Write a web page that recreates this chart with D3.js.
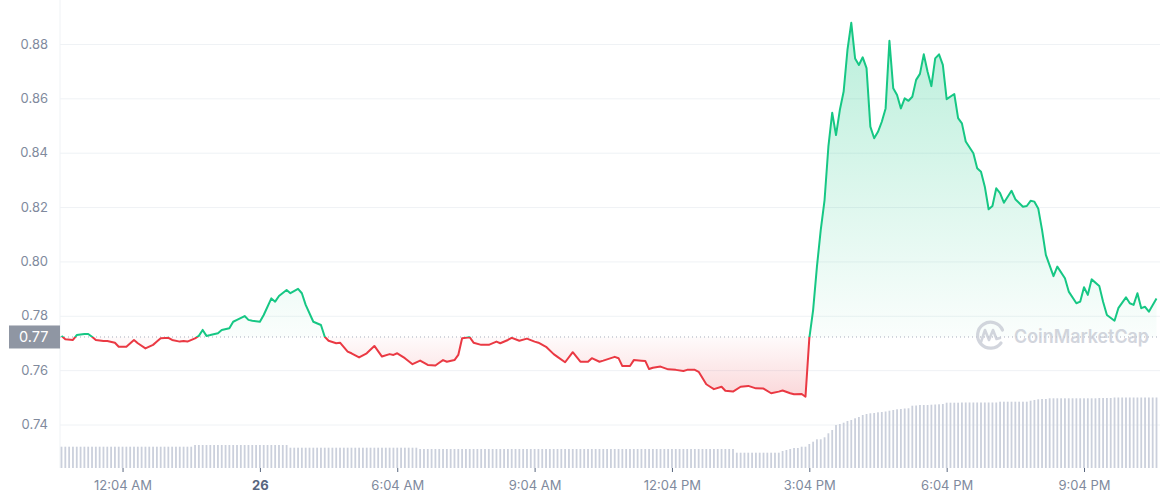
<!DOCTYPE html>
<html><head><meta charset="utf-8">
<script src="https://cdn.jsdelivr.net/npm/d3@7"></script>
<style>body{margin:0;background:#fff;} svg{display:block;font-family:Inter,"Noto Sans",sans-serif;}</style>
</head><body><svg id="chart" width="1160" height="500"></svg>
<script>
// minutes since start of window (5-min resolution)
const priceTimes = [0,5,15,20,30,35,40,45,55,60,70,75,85,95,100,110,120,125,130,140,145,155,160,165,175,180,185,190,195,205,210,220,225,230,240,245,250,260,265,275,280,285,295,300,310,315,320,330,340,345,350,360,365,375,380,390,400,410,420,430,435,440,450,460,470,480,490,495,500,505,515,520,525,535,540,550,560,570,575,585,590,600,610,620,625,635,645,650,660,670,680,690,695,705,710,725,730,735,745,750,760,765,770,775,785,795,805,815,820,830,835,845,850,855,865,870,880,890,900,910,920,930,940,945,955,960,970,975,980,985,990,995,1000,1005,1010,1015,1020,1025,1030,1035,1040,1045,1050,1055,1060,1065,1070,1075,1080,1085,1090,1095,1100,1105,1110,1115,1120,1125,1130,1135,1140,1145,1150,1155,1160,1170,1175,1180,1185,1195,1200,1205,1210,1215,1220,1225,1230,1235,1245,1250,1260,1265,1270,1275,1280,1285,1290,1300,1305,1315,1320,1330,1335,1340,1345,1350,1360,1365,1370,1380,1385,1395,1400,1405,1410,1415,1420,1425,1435];
const priceValues = [0.7726,0.7714,0.7711,0.7729,0.7733,0.7733,0.7723,0.7711,0.7707,0.7707,0.7701,0.7686,0.7686,0.7711,0.7699,0.7680,0.7693,0.7705,0.7717,0.7719,0.7711,0.7705,0.7707,0.7705,0.7717,0.7726,0.7748,0.7726,0.7729,0.7736,0.7748,0.7754,0.7778,0.7785,0.7799,0.7785,0.7782,0.7778,0.7803,0.7864,0.7852,0.7873,0.7895,0.7883,0.7899,0.7883,0.7840,0.7778,0.7766,0.7723,0.7708,0.7699,0.7701,0.7668,0.7662,0.7647,0.7662,0.7689,0.7650,0.7659,0.7656,0.7662,0.7644,0.7622,0.7635,0.7619,0.7617,0.7627,0.7637,0.7631,0.7637,0.7656,0.7717,0.7721,0.7701,0.7693,0.7693,0.7705,0.7699,0.7711,0.7719,0.7708,0.7716,0.7705,0.7701,0.7686,0.7659,0.7649,0.7629,0.7666,0.7631,0.7631,0.7644,0.7631,0.7635,0.7649,0.7644,0.7615,0.7615,0.7637,0.7635,0.7634,0.7604,0.7609,0.7613,0.7603,0.7601,0.7597,0.7601,0.7601,0.7594,0.7548,0.7539,0.7530,0.7539,0.7524,0.7521,0.7539,0.7542,0.7533,0.7532,0.7515,0.7521,0.7525,0.7515,0.7511,0.7512,0.7502,0.7717,0.7821,0.7981,0.8116,0.8226,0.8422,0.8547,0.8465,0.8557,0.8625,0.8778,0.8878,0.8747,0.8723,0.8751,0.8711,0.8496,0.8453,0.8477,0.8514,0.8563,0.8812,0.8637,0.8612,0.8563,0.8600,0.8591,0.8606,0.8668,0.8690,0.8762,0.8698,0.8645,0.8747,0.8762,0.8723,0.8597,0.8616,0.8527,0.8508,0.8441,0.8398,0.8343,0.8330,0.8275,0.8192,0.8204,0.8269,0.8251,0.8216,0.8260,0.8229,0.8201,0.8204,0.8223,0.8220,0.8195,0.8116,0.8024,0.7946,0.7981,0.7938,0.7889,0.7846,0.7852,0.7905,0.7877,0.7934,0.7910,0.7852,0.7803,0.7782,0.7828,0.7868,0.7846,0.7840,0.7883,0.7828,0.7833,0.7815,0.7864];
// 24h rolling volume, one bar per 5 minutes (arbitrary units)
const volumes = [
2.13,2.13,2.13,2.13,2.13,2.13,2.13,2.13,2.13,2.13,2.13,2.13,
2.13,2.13,2.13,2.13,2.13,2.13,2.13,2.13,2.13,2.13,2.13,2.13,
2.13,2.13,2.13,2.13,2.13,2.13,2.13,2.13,2.13,2.13,2.13,2.3,
2.3,2.3,2.3,2.3,2.3,2.3,2.3,2.3,2.3,2.3,2.3,2.3,
2.3,2.3,2.3,2.3,2.3,2.3,2.3,2.3,2.3,2.3,2.3,2.3,
2.03,2.03,2.03,2.03,2.03,2.03,2.03,2.03,2.03,2.03,2.03,2.03,
2.03,2.03,2.03,2.03,2.03,2.03,2.03,2.03,2.03,2.03,2.03,2.03,
2.03,2.03,2.03,2.03,2.03,2.03,2.03,2.03,2.03,2.03,1.9,1.9,
1.9,1.9,1.9,1.9,1.9,1.9,1.9,1.9,1.9,1.9,1.9,1.9,
1.9,1.9,1.9,1.9,1.9,1.9,1.9,1.9,1.9,1.9,1.9,1.9,
1.9,1.9,1.9,1.9,1.9,1.9,1.9,1.9,1.9,1.9,1.9,1.9,
1.9,1.9,1.9,1.9,1.9,1.9,1.9,1.9,1.9,1.9,1.9,1.9,
1.9,1.9,1.9,1.9,1.9,1.9,1.9,1.9,1.9,1.9,1.9,1.9,
1.9,1.9,1.9,1.9,1.9,1.9,1.9,1.9,1.9,1.9,1.9,1.9,
1.9,1.9,1.9,1.9,1.9,1.9,1.9,1.9,1.9,1.53,1.53,1.53,
1.53,1.53,1.53,1.53,1.53,1.53,1.53,1.53,1.53,1.7,1.8,1.9,
2.0,2.0,2.13,2.13,2.4,2.63,2.87,2.87,3.07,3.47,3.8,4.3,
4.4,4.53,4.7,4.8,4.97,5.1,5.3,5.4,5.47,5.5,5.57,5.6,
5.65,5.73,5.8,5.87,5.9,5.95,5.97,6.23,6.25,6.3,6.3,6.3,
6.33,6.35,6.37,6.4,6.53,6.53,6.53,6.53,6.55,6.55,6.55,6.55,
6.55,6.55,6.55,6.55,6.55,6.55,6.63,6.63,6.63,6.63,6.63,6.63,
6.63,6.63,6.73,6.8,6.87,6.9,6.9,6.97,6.97,6.97,6.97,6.97,
6.97,6.97,6.97,6.97,6.97,6.97,6.97,6.97,7.0,7.0,7.0,7.0,
7.05,7.05,7.05,7.05,7.05,7.05,7.05,7.05,7.05,7.05,7.05,7.05];
const openPrice = 0.7722;
const openLabel = "0.77";
const yTicks = [0.74,0.76,0.78,0.80,0.82,0.84,0.86,0.88];
const xTickTimes = [80,260,440,620,800,980,1160,1340];
const xTickLabels = ["12:04 AM","26","6:04 AM","9:04 AM","12:04 PM","3:04 PM","6:04 PM","9:04 PM"];

const W = 1160, H = 500;
const svg = d3.select("#chart");
const data = priceTimes.map((t,i)=>({t, v: priceValues[i]}));

const x = d3.scaleLinear().domain([0,1435]).range([61.5,1156.5]);
const y = d3.scaleLinear().domain([0.74,0.88]).range([424.5,44]);
const yv = d3.scaleLinear().domain([0,10]).range([468,368]);
const by = y(openPrice);

const GREEN = "#16c784", RED = "#ea3943";
const defs = svg.append("defs");
const gG = defs.append("linearGradient").attr("id","gG").attr("gradientUnits","userSpaceOnUse")
  .attr("x1",0).attr("x2",0).attr("y1",y(d3.max(priceValues))).attr("y2",by);
gG.append("stop").attr("offset","0%").attr("stop-color",GREEN).attr("stop-opacity",0.3);
gG.append("stop").attr("offset","100%").attr("stop-color",GREEN).attr("stop-opacity",0.02);
const gR = defs.append("linearGradient").attr("id","gR").attr("gradientUnits","userSpaceOnUse")
  .attr("x1",0).attr("x2",0).attr("y1",by).attr("y2",y(d3.min(priceValues)));
gR.append("stop").attr("offset","0%").attr("stop-color",RED).attr("stop-opacity",0.02);
gR.append("stop").attr("offset","100%").attr("stop-color",RED).attr("stop-opacity",0.2);
defs.append("clipPath").attr("id","cA").append("rect").attr("x",0).attr("y",0).attr("width",W).attr("height",by);
defs.append("clipPath").attr("id","cB").append("rect").attr("x",0).attr("y",by).attr("width",W).attr("height",H-by);

// grid + y axis
const yAxis = d3.axisLeft(y).tickValues(yTicks).tickFormat(d3.format(".2f")).tickSize(-(W-60)).tickPadding(12);
const ga = svg.append("g").attr("transform","translate(60,0)").call(yAxis);
ga.select(".domain").remove();
ga.selectAll(".tick line").attr("stroke","#eff2f5");
ga.selectAll(".tick text").attr("fill","#808a9d").attr("font-size",13).attr("font-family","Inter,'Noto Sans',sans-serif");
svg.append("line").attr("x1",60).attr("x2",60).attr("y1",0).attr("y2",468).attr("stroke","#eff2f5");

// volume bars
svg.append("g").selectAll("rect").data(volumes).join("rect")
  .attr("x",(d,i)=>x(i*5)-0.9).attr("width",1.8)
  .attr("y",d=>yv(d)).attr("height",d=>yv(0)-yv(d))
  .attr("fill","#cbd0dc");

// areas
const area = d3.area().x(d=>x(d.t)).y0(by).y1(d=>y(d.v));
svg.append("path").datum(data).attr("d",area).attr("fill","url(#gG)").attr("clip-path","url(#cA)");
svg.append("path").datum(data).attr("d",area).attr("fill","url(#gR)").attr("clip-path","url(#cB)");

// baseline dotted
svg.append("line").attr("x1",60).attr("x2",W).attr("y1",by).attr("y2",by)
  .attr("stroke","#a6adbb").attr("stroke-width",1).attr("stroke-dasharray","1,3");

// watermark
const wm = svg.append("g").attr("opacity",0.75);
wm.append("path").attr("d","M1001,343 A13,13 0 1 1 1002.5,330").attr("fill","none").attr("stroke","#c4c8d2").attr("stroke-width",3.2).attr("stroke-linecap","round");
wm.append("path").attr("d","M981,342 L985,330 L989,340 L993,330 L996.5,339 L1000,338").attr("fill","none").attr("stroke","#c4c8d2").attr("stroke-width",2.6).attr("stroke-linejoin","round").attr("stroke-linecap","round");
wm.append("text").attr("x",1014).attr("y",337).attr("dy","0.35em").attr("fill","#c4c8d2").attr("font-size",18.5).attr("font-weight",600)
  .attr("textLength",135).attr("lengthAdjust","spacingAndGlyphs").text("CoinMarketCap");

// lines
const line = d3.line().x(d=>x(d.t)).y(d=>y(d.v));
svg.append("path").datum(data).attr("d",line).attr("fill","none").attr("stroke",GREEN).attr("stroke-width",2).attr("stroke-linejoin","round").attr("clip-path","url(#cA)");
svg.append("path").datum(data).attr("d",line).attr("fill","none").attr("stroke",RED).attr("stroke-width",2).attr("stroke-linejoin","round").attr("clip-path","url(#cB)");

// x axis
const xAxis = d3.axisBottom(x).tickValues(xTickTimes).tickFormat((d,i)=>xTickLabels[i]).tickSize(4).tickPadding(9);
const gx = svg.append("g").attr("transform","translate(0,468)").call(xAxis);
gx.select(".domain").remove();
gx.selectAll(".tick line").attr("stroke","#58667e");
gx.selectAll(".tick text").attr("font-size",13).attr("font-family","Inter,'Noto Sans',sans-serif")
  .attr("font-weight",(d,i)=>xTickLabels[i]==="26"?700:400)
  .attr("fill",(d,i)=>xTickLabels[i]==="26"?"#58667e":"#808a9d");

// open price label
const lab = svg.append("g");
lab.append("rect").attr("x",9).attr("y",by-11.5).attr("width",51).attr("height",23).attr("fill","#8f96a3");
lab.append("text").attr("x",19).attr("y",by).attr("dy","0.35em").attr("fill","#fff").attr("font-size",14.5).text(openLabel);
</script></body></html>
